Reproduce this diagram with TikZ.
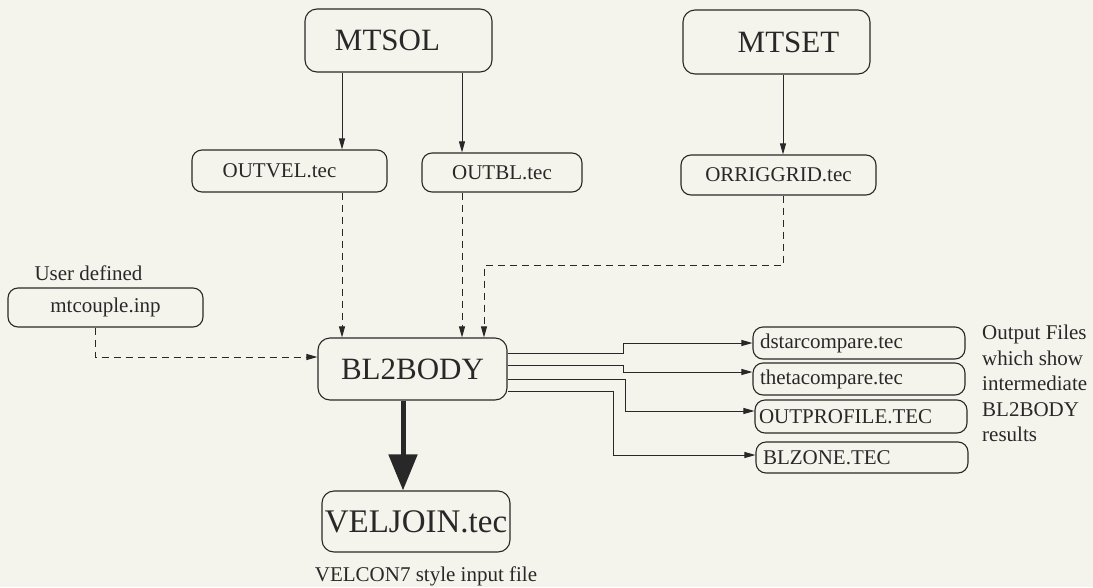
\documentclass[tikz,border=0pt]{standalone}
\usepackage{fontspec}
\setmainfont{Liberation Serif}
\usetikzlibrary{arrows.meta}
\definecolor{bg}{RGB}{245,244,236}
\definecolor{ink}{RGB}{40,40,40}
\begin{document}
\begin{tikzpicture}[x=1pt,y=-1pt,
  box/.style={draw=ink, line width=1.1pt, rounded corners=10pt, inner sep=0pt, text=ink},
  big/.style={box, font=\fontsize{31}{36}\selectfont, minimum width=187pt, minimum height=63pt, rounded corners=12pt},
  file/.style={box, font=\fontsize{21}{25}\selectfont, minimum height=40pt},
  outf/.style={box, font=\fontsize{21}{25}\selectfont, minimum height=32pt, text width=198pt, align=left, inner xsep=7pt},
  lab/.style={text=ink, font=\fontsize{21}{25.5}\selectfont, inner sep=0pt},
  arr/.style={draw=ink, line width=1pt, -{Triangle[length=11pt,width=6pt]}},
  darr/.style={arr, dash pattern=on 7pt off 5pt},
  fatarr/.style={draw=ink, line width=5pt, -{Triangle[length=36pt,width=28pt]}},
]
\fill[bg] (0,0) rectangle (1093,587);
\useasboundingbox (0,0) rectangle (1093,587);

% main boxes
\node[big] (mtsol) at (398.5,40.5) {\hspace*{-22pt}MTSOL};
\node[big, minimum height=64pt] (mtset) at (776.5,42) {\hspace*{24pt}MTSET};
\node[file, minimum width=195pt, minimum height=42pt] (outvel) at (289.5,171) {\hspace*{-20pt}OUTVEL.tec};
\node[file, minimum width=160pt, minimum height=39pt] (outbl) at (502,172.5) {OUTBL.tec};
\node[file, minimum width=195pt] (orr) at (778.5,175) {ORRIGGRID.tec};
\node[file, minimum width=195pt, minimum height=39pt] (mtc) at (105.5,307.5) {mtcouple.inp};
\node[big, minimum width=189pt, minimum height=62pt] (bl) at (412.5,369) {BL2BODY};
\node[big, minimum width=188pt, minimum height=61pt, font=\fontsize{33}{38}\selectfont] (vel) at (416,521.5) {VELJOIN.tec};

% output files
\node[outf] (dstar) at (859,343) {dstarcompare.tec};
\node[outf] (theta) at (859,379) {thetacompare.tec};
\node[outf, minimum height=33pt, inner xsep=4pt, text width=204pt] (outp) at (861,416.5) {OUTPROFILE.TEC};
\node[outf, minimum height=31pt] (blz) at (862,457.5) {BLZONE.TEC};

% labels
\node[lab, anchor=base] (user) at (88.5,280) {User defined};
\node[lab, anchor=base] (velcon) at (426,581) {VELCON7 style input file};
\node[lab, anchor=north west, align=left] (outtxt) at (982,325) {Output Files\\which show\\intermediate\\BL2BODY\\results};

% helper coordinates
\coordinate (s1) at ([xshift=-56.5pt]mtsol.south);
\coordinate (s2) at ([xshift=63.5pt]mtsol.south);
\coordinate (s3) at ([xshift=6.5pt]mtset.south);
\coordinate (d1) at ([xshift=52.5pt]outvel.south);
\coordinate (d2) at ([xshift=-40pt]outbl.south);
\coordinate (d3) at ([xshift=4.5pt]orr.south);
\coordinate (d4) at ([xshift=-10.5pt]mtc.south);
\coordinate (f1) at ([xshift=-9.5pt]bl.south);

% solid arrows
\draw[arr] (s1) -- (s1 |- outvel.north);
\draw[arr] (s2) -- (s2 |- outbl.north);
\draw[arr] (s3) -- (s3 |- orr.north);

% dashed arrows
\draw[darr] (d1) -- (d1 |- bl.north);
\draw[darr] (d2) -- (d2 |- bl.north);
\draw[darr] (d3) -- ++(0,70) -| ([xshift=71.5pt]bl.north);
\draw[darr] (d4) |- ([yshift=12pt]bl.west);

% thick arrow
\draw[fatarr] (f1) -- (f1 |- vel.north);

% outputs
\draw[arr] ([yshift=16pt]bl.east) -- ++(116,0) |- (dstar.west);
\draw[arr] ([yshift=4pt]bl.east) -- ++(116,0) |- ([yshift=7pt]theta.west);
\draw[arr] ([yshift=-10pt]bl.east) -- ++(118,0) |- ([yshift=5.5pt]outp.west);
\draw[arr] ([yshift=-22pt]bl.east) -- ++(106,0) |- ([yshift=2.5pt]blz.west);
\end{tikzpicture}
\end{document}
